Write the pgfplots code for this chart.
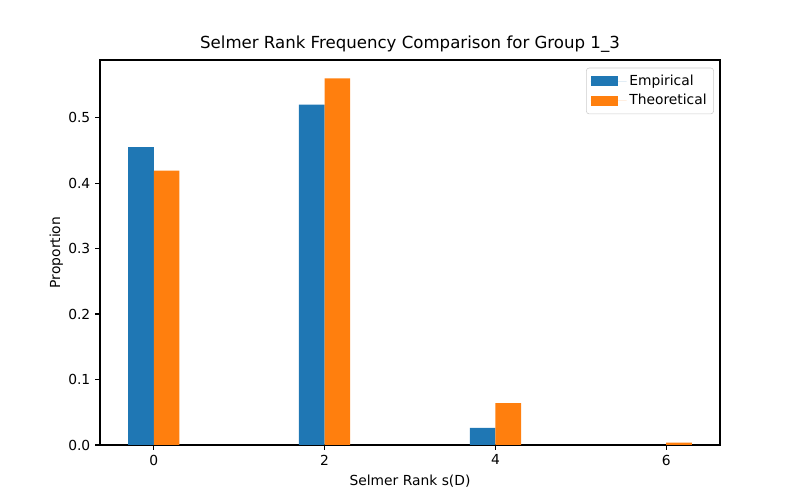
\documentclass[border=0pt]{standalone}
\usepackage{pgfplots}
\pgfplotsset{compat=1.18}
\usepackage{fontspec}
\setmainfont{DejaVu Sans}
\definecolor{mplblue}{HTML}{1F77B4}
\definecolor{mplorange}{HTML}{FF7F0E}

\begin{document}
\begin{tikzpicture}
\useasboundingbox (-1in,-0.55in) rectangle (7in,4.45in);
\begin{axis}[
    scale only axis,
    width=6.2in, height=3.85in,
    xmin=-0.63, xmax=6.63,
    ymin=0, ymax=0.588,
    xtick={0,2,4,6},
    ytick={0,0.1,0.2,0.3,0.4,0.5},
    yticklabel style={/pgf/number format/.cd,fixed,fixed zerofill,precision=1},
    /pgf/number format/assume math mode=true,
    tick align=outside,
    tick pos=left,
    major tick length=3.5pt,
    tick style={black, line width=0.8pt},
    axis line style={line width=0.8pt},
    ticklabel style={font=\fontsize{10}{12}\selectfont},
    xlabel={Selmer Rank s(D)},
    ylabel={Proportion},
    label style={font=\fontsize{10}{12}\selectfont},
    ylabel style={yshift=-3pt},
    title={Selmer Rank Frequency Comparison for Group 1\_3},
    title style={font=\fontsize{12}{14}\selectfont, yshift=-4pt},
    legend style={at={(0.99,0.98)}, anchor=north east, draw=black!20, rounded corners=2pt,
        font=\fontsize{10}{12}\selectfont, row sep=1pt, inner sep=3pt},
    legend cell align=left,
    legend image code/.code={\path (0pt,0pt) -- (26pt,0pt);
        \fill[#1, sharp corners] (0pt,-3.5pt) rectangle (20pt,3.5pt);},
]
\addplot[ybar, bar width=0.3, bar shift=-0.15, fill=mplblue, draw=none]
coordinates {(0,0.455) (2,0.520) (4,0.026) (6,0.0)};
\addplot[ybar, bar width=0.3, bar shift=0.15, fill=mplorange, draw=none]
coordinates {(0,0.419) (2,0.560) (4,0.064) (6,0.0035)};
\legend{Empirical,Theoretical}
\end{axis}
\end{tikzpicture}
\end{document}
